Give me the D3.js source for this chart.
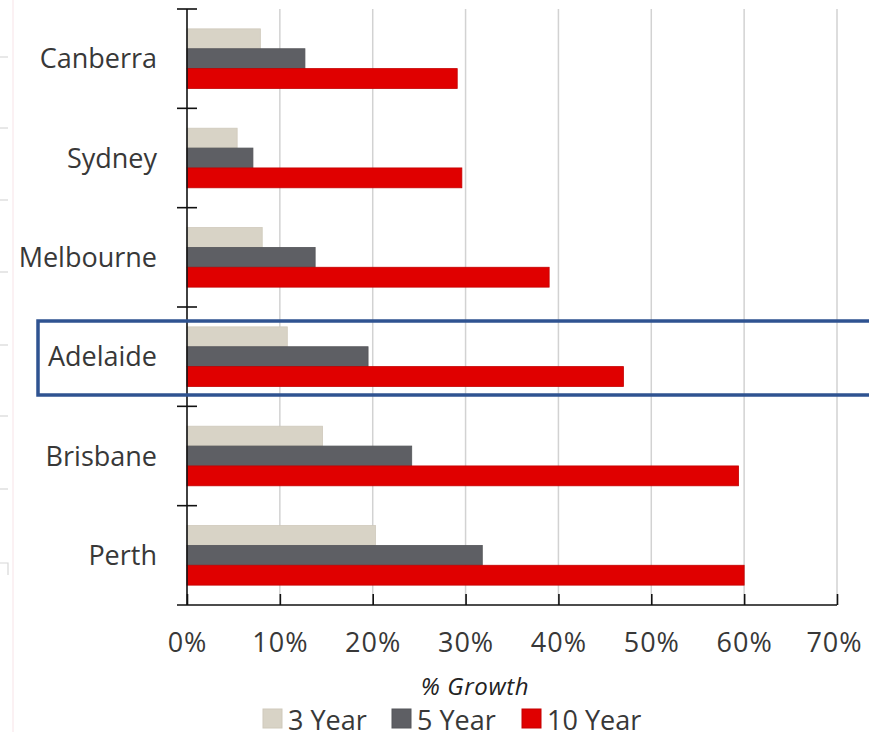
<!DOCTYPE html>
<html>
<head>
<meta charset="utf-8">
<script src="https://cdn.jsdelivr.net/npm/d3@7"></script>
<style>
  html, body { margin: 0; padding: 0; background: #fff; }
  svg { display: block; }
  .cat-label { font-family: "Open Sans", sans-serif; font-size: 27px; fill: #383838; }
  .tick-label { font-family: "Open Sans", sans-serif; font-size: 27px; letter-spacing: 1px; fill: #383838; }
  .axis-title { font-family: "Open Sans", sans-serif; font-size: 24px; letter-spacing: 0.6px; font-style: italic; fill: #222; }
  .legend-label { font-family: "Open Sans", sans-serif; font-size: 27px; fill: #383838; }
</style>
</head>
<body>
<div id="chart"></div>
<script>
// Chart values
const cities = ["Canberra", "Sydney", "Melbourne", "Adelaide", "Brisbane", "Perth"];
const seriesNames = ["3 Year", "5 Year", "10 Year"];
const threeYear = [7.9, 5.4, 8.1, 10.8, 14.6, 20.3];
const fiveYear = [12.7, 7.1, 13.8, 19.5, 24.2, 31.8];
const tenYear = [29.1, 29.6, 39.0, 47.0, 59.4, 60.0];
const xTicks = [0, 10, 20, 30, 40, 50, 60, 70];
const highlighted = "Adelaide";

const seriesColors = ["#d8d3c6", "#5e5f64", "#e00000"];
const seriesStroke = ["#cfc9bb", "#55565a", "#c40000"];

const width = 869, height = 732;
const margin = { top: 9, right: 32, bottom: 127, left: 187 };
const innerWidth = width - margin.left - margin.right;
const innerHeight = height - margin.top - margin.bottom;

const rows = cities.map((c, i) => ({
  city: c,
  values: [threeYear[i], fiveYear[i], tenYear[i]]
}));

const svg = d3.select("#chart").append("svg")
  .attr("width", width)
  .attr("height", height);

// faint crop marks left over along the left edge of the source image
const edge = svg.append("g");
edge.append("line").attr("x1", 13).attr("x2", 13).attr("y1", 0).attr("y2", height)
  .attr("stroke", "#fbf1f3").attr("stroke-width", 2);
[57, 128, 200, 272, 345, 416, 489].forEach((y) => {
  edge.append("line").attr("x1", 0).attr("x2", 8).attr("y1", y).attr("y2", y)
    .attr("stroke", "#d8d8d8").attr("stroke-width", 1.2);
});
edge.append("path").attr("d", "M0,563H8V575").attr("fill", "none")
  .attr("stroke", "#d8d8d8").attr("stroke-width", 1.2);

const plot = svg.append("g").attr("transform", `translate(${margin.left},${margin.top})`);

const x = d3.scaleLinear().domain([0, 70]).range([0, innerWidth]);
const y = d3.scaleBand().domain(cities).range([0, innerHeight]).padding(0);
const ySub = d3.scaleBand().domain(d3.range(seriesNames.length))
  .range([y.bandwidth() * 0.2, y.bandwidth() * 0.8]).padding(0);

// vertical gridlines
plot.append("g")
  .selectAll("line")
  .data(xTicks.filter((d) => d > 0))
  .join("line")
  .attr("x1", (d) => x(d)).attr("x2", (d) => x(d))
  .attr("y1", 0).attr("y2", innerHeight)
  .attr("stroke", "#d2d2d2").attr("stroke-width", 1.5);

// bars
const groups = plot.append("g")
  .selectAll("g")
  .data(rows)
  .join("g")
  .attr("transform", (d) => `translate(0,${y(d.city)})`);

groups.selectAll("rect")
  .data((d) => d.values.map((v, i) => ({ v, i })))
  .join("rect")
  .attr("x", x(0))
  .attr("y", (d) => ySub(d.i))
  .attr("width", (d) => x(d.v) - x(0))
  .attr("height", ySub.bandwidth())
  .attr("fill", (d) => seriesColors[d.i])
  .attr("stroke", (d) => seriesStroke[d.i])
  .attr("stroke-width", 0.8);

// x axis: ticks pointing up into the plot
const xAxis = plot.append("g")
  .attr("transform", `translate(0,${innerHeight})`)
  .call(d3.axisBottom(x).tickValues(xTicks).tickSize(-11).tickFormat((d) => d + "%").tickPadding(28));
xAxis.select(".domain").remove();
xAxis.append("line").attr("x1", -10).attr("x2", innerWidth).attr("y1", 0).attr("y2", 0)
  .attr("stroke", "#111").attr("stroke-width", 1.6);
xAxis.selectAll(".tick line").attr("stroke", "#111").attr("stroke-width", 1.6);
xAxis.selectAll(".tick text").attr("class", "tick-label").attr("fill", null);
xAxis.selectAll(".tick").filter((d) => d === 70).select("text").attr("dx", -3);

// y axis: ticks at band boundaries crossing the axis line
const yAxis = plot.append("g");
yAxis.append("line").attr("x1", 0).attr("x2", 0).attr("y1", 0).attr("y2", innerHeight)
  .attr("stroke", "#111").attr("stroke-width", 1.6);
yAxis.selectAll("line.bound")
  .data(cities.map((c) => y(c)))
  .join("line")
  .attr("class", "bound")
  .attr("x1", -10).attr("x2", 10)
  .attr("y1", (d) => d).attr("y2", (d) => d)
  .attr("stroke", "#111").attr("stroke-width", 1.6);

yAxis.selectAll("text")
  .data(cities)
  .join("text")
  .attr("class", "cat-label")
  .attr("x", -30)
  .attr("y", (d) => y(d) + y.bandwidth() / 2 - 1)
  .attr("text-anchor", "end")
  .attr("dominant-baseline", "central")
  .text((d) => d);

// highlight box around one city
svg.append("rect")
  .attr("x", 38)
  .attr("y", margin.top + y(highlighted) + 14)
  .attr("width", width)
  .attr("height", 74)
  .attr("fill", "none")
  .attr("stroke", "#2f5391")
  .attr("stroke-width", 3.5);

// axis title
svg.append("text")
  .attr("class", "axis-title")
  .attr("x", 475)
  .attr("y", 695)
  .attr("text-anchor", "middle")
  .text("% Growth");

// legend
const legendX = [263, 392, 522];
const legend = svg.append("g")
  .selectAll("g")
  .data(seriesNames)
  .join("g")
  .attr("transform", (d, i) => `translate(${legendX[i]},709)`);
legend.append("rect")
  .attr("width", 19).attr("height", 19)
  .attr("fill", (d, i) => seriesColors[i])
  .attr("stroke", (d, i) => seriesStroke[i]);
legend.append("text")
  .attr("class", "legend-label")
  .attr("x", 25)
  .attr("y", 10)
  .attr("dominant-baseline", "central")
  .text((d) => d);
</script>
</body>
</html>
